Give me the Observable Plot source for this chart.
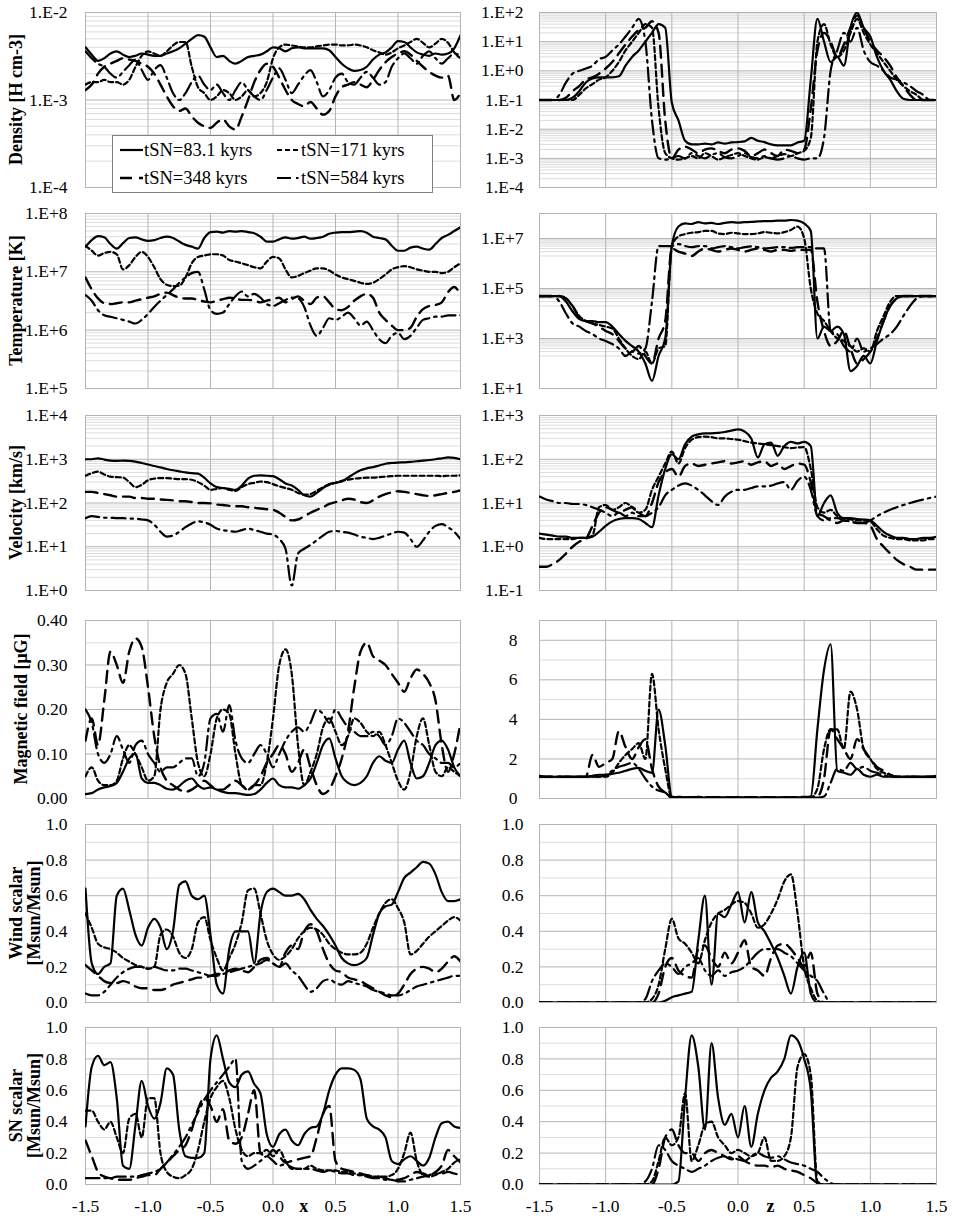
<!DOCTYPE html>
<html><head><meta charset="utf-8">
<script src="https://cdn.jsdelivr.net/npm/d3@7"></script>
<script src="https://cdn.jsdelivr.net/npm/@observablehq/plot@0.6"></script>
<style>
body{margin:0;background:#fff;}
#chart{position:relative;width:953px;height:1218px;font-family:"Liberation Serif","Times New Roman",serif;background:#fff;}
#chart svg{position:absolute;overflow:visible;}
</style></head>
<body><div id="chart"></div>
<script>
// ---- sampling grid (x for left column, z for right column) ----
const positions = d3.range(61).map(i => +(-1.5 + i * 0.05).toFixed(2));
const xTicks = [-1.5, -1.0, -0.5, 0.0, 0.5, 1.0, 1.5];
const seriesNames = ["tSN=83.1 kyrs", "tSN=171 kyrs", "tSN=348 kyrs", "tSN=584 kyrs"];

// ---- LEFT column (x) ----
const densX83 = [4.0e-3,3.3e-3,2.8e-3,3.0e-3,3.4e-3,3.6e-3,3.3e-3,3.1e-3,3.2e-3,3.4e-3, 3.3e-3,3.2e-3,3.2e-3,3.4e-3,3.6e-3,3.9e-3,4.4e-3,5.0e-3,5.5e-3,5.3e-3, 4.0e-3,3.1e-3,3.2e-3,2.8e-3,2.6e-3,2.8e-3,3.1e-3,3.2e-3,3.3e-3,3.6e-3, 4.0e-3,3.9e-3,3.6e-3,3.9e-3,4.0e-3,3.9e-3,3.9e-3,3.9e-3,3.9e-3,3.7e-3, 3.1e-3,2.6e-3,2.3e-3,2.15e-3,2.2e-3,2.4e-3,2.9e-3,3.3e-3,3.5e-3,4.0e-3, 4.7e-3,4.6e-3,4.0e-3,3.5e-3,3.3e-3,3.2e-3,3.4e-3,3.3e-3,3.4e-3,3.9e-3, 5.5e-3];
const densX171 = [1.5e-3,1.6e-3,1.6e-3,1.7e-3,1.6e-3,1.6e-3,1.5e-3,1.7e-3,2.4e-3,3.2e-3, 3.6e-3,3.4e-3,3.2e-3,3.6e-3,4.2e-3,4.6e-3,4.6e-3,2.4e-3,1.4e-3,1.2e-3, 1.0e-3,1.1e-3,1.3e-3,1.2e-3,1.0e-3,1.1e-3,1.3e-3,1.1e-3,1.2e-3,1.6e-3, 3.0e-3,4.0e-3,4.3e-3,4.2e-3,4.1e-3,4.0e-3,4.0e-3,4.1e-3,4.2e-3,4.3e-3, 4.3e-3,4.2e-3,4.2e-3,4.3e-3,4.2e-3,4.0e-3,3.7e-3,3.5e-3,3.3e-3,3.5e-3, 3.9e-3,4.2e-3,4.6e-3,5.0e-3,4.5e-3,4.0e-3,4.4e-3,5.0e-3,4.5e-3,3.5e-3, 3.0e-3];
const densX348 = [1.3e-3,1.5e-3,2.0e-3,2.4e-3,2.6e-3,2.8e-3,3.0e-3,2.9e-3,2.8e-3,2.6e-3, 2.4e-3,2.0e-3,1.5e-3,1.1e-3,8.5e-4,7.5e-4,8.0e-4,6.5e-4,5.5e-4,5.0e-4, 4.8e-4,5.5e-4,6.0e-4,5.0e-4,4.6e-4,6.5e-4,1.0e-3,1.6e-3,2.2e-3,2.6e-3, 2.4e-3,1.8e-3,1.3e-3,1.0e-3,9.0e-4,8.5e-4,9.5e-4,8.0e-4,6.8e-4,7.5e-4, 1.1e-3,1.4e-3,1.5e-3,1.6e-3,1.5e-3,1.4e-3,1.7e-3,2.2e-3,2.7e-3,3.1e-3, 3.4e-3,3.6e-3,3.3e-3,2.8e-3,2.4e-3,2.1e-3,1.9e-3,1.8e-3,1.9e-3,1.0e-3, 1.2e-3];
const densX584 = [3.6e-3,3.0e-3,2.6e-3,2.4e-3,2.0e-3,1.8e-3,2.1e-3,2.5e-3,2.9e-3,2.2e-3, 1.7e-3,2.2e-3,2.5e-3,1.8e-3,1.2e-3,1.0e-3,1.2e-3,1.6e-3,1.9e-3,1.5e-3, 1.3e-3,1.5e-3,1.2e-3,1.0e-3,1.3e-3,1.6e-3,1.3e-3,1.1e-3,1.0e-3,1.3e-3, 1.8e-3,2.3e-3,1.7e-3,1.2e-3,1.5e-3,1.9e-3,2.2e-3,1.6e-3,1.1e-3,1.3e-3, 1.8e-3,2.0e-3,1.6e-3,1.5e-3,1.8e-3,2.1e-3,1.8e-3,1.5e-3,1.6e-3,2.4e-3, 3.0e-3,3.4e-3,3.0e-3,2.6e-3,3.2e-3,3.6e-3,3.0e-3,2.6e-3,3.0e-3,3.4e-3, 3.2e-3];

const tempX83 = [2.7e7,3.5e7,4.1e7,3.9e7,3.0e7,2.5e7,3.1e7,3.8e7,3.9e7,3.6e7, 3.4e7,3.5e7,3.8e7,4.0e7,3.8e7,3.3e7,2.9e7,2.7e7,2.5e7,3.8e7, 4.8e7,4.9e7,4.7e7,5.0e7,4.9e7,5.0e7,4.8e7,4.6e7,4.0e7,3.3e7, 3.3e7,3.6e7,3.9e7,3.7e7,3.8e7,4.0e7,3.7e7,3.8e7,4.0e7,4.5e7, 4.7e7,4.8e7,4.8e7,4.9e7,5.0e7,4.7e7,4.0e7,3.8e7,3.6e7,2.8e7, 2.3e7,2.3e7,2.6e7,2.7e7,2.5e7,2.4e7,3.0e7,3.8e7,4.3e7,5.0e7, 5.8e7];
const tempX171 = [2.8e7,2.3e7,1.9e7,2.1e7,2.2e7,2.0e7,1.1e7,1.3e7,1.8e7,2.2e7, 1.8e7,1.2e7,7.5e6,6.0e6,5.7e6,5.8e6,8.0e6,1.4e7,1.8e7,1.9e7, 2.0e7,2.0e7,1.9e7,1.6e7,1.5e7,1.4e7,1.3e7,1.2e7,1.15e7,1.5e7, 1.8e7,1.7e7,1.1e7,8.0e6,8.5e6,9.5e6,1.05e7,1.15e7,1.15e7,1.05e7, 9.0e6,8.0e6,7.5e6,7.0e6,6.5e6,6.2e6,6.5e6,7.5e6,9.0e6,1.1e7, 1.2e7,1.25e7,1.2e7,1.1e7,1.05e7,1.0e7,1.0e7,9.5e6,1.0e7,1.2e7, 1.4e7];
const tempX348 = [8.0e6,5.0e6,3.5e6,2.9e6,2.8e6,2.9e6,3.0e6,3.0e6,3.2e6,3.4e6, 3.6e6,3.8e6,4.2e6,4.4e6,4.0e6,3.6e6,3.5e6,3.5e6,3.3e6,3.1e6, 3.0e6,3.2e6,3.4e6,3.6e6,3.5e6,3.3e6,3.3e6,3.2e6,3.0e6,3.2e6, 3.4e6,3.6e6,3.0e6,3.4e6,3.8e6,3.2e6,2.8e6,3.6e6,3.8e6,3.0e6, 2.3e6,2.2e6,2.5e6,3.2e6,3.8e6,4.2e6,3.6e6,2.0e6,1.5e6,1.2e6, 1.0e6,1.0e6,1.1e6,1.7e6,2.3e6,2.6e6,2.7e6,3.0e6,4.5e6,5.5e6, 4.0e6];
const tempX584 = [4.0e6,3.2e6,2.2e6,1.8e6,1.7e6,1.6e6,1.5e6,1.4e6,1.3e6,1.5e6, 1.9e6,2.5e6,3.2e6,4.0e6,5.0e6,6.5e6,8.0e6,9.5e6,1.0e7,5.0e6, 2.2e6,1.9e6,2.0e6,2.8e6,3.8e6,4.6e6,3.8e6,4.2e6,3.6e6,2.8e6, 2.6e6,2.9e6,3.3e6,3.6e6,3.5e6,2.5e6,1.2e6,8.0e5,1.1e6,1.6e6, 1.5e6,1.7e6,2.0e6,1.6e6,1.2e6,1.4e6,1.0e6,7.0e5,6.0e5,8.0e5, 9.0e5,7.0e5,8.0e5,1.1e6,1.5e6,1.6e6,1.7e6,1.7e6,1.8e6,1.8e6, 1.8e6];

const velX83 = [1000,1000,1050,980,930,920,930,920,880,820, 760,700,650,600,560,530,500,480,470,380, 280,230,220,210,200,250,360,420,430,420, 410,350,280,250,200,150,140,170,220,270, 290,310,380,470,560,620,660,720,790,820, 840,850,870,900,930,960,1000,1050,1100,1080, 1000];
const velX171 = [420,480,520,450,400,390,380,300,230,260, 330,360,370,370,360,350,350,340,300,250, 200,210,220,200,190,230,270,290,310,300, 270,240,220,200,170,155,160,190,230,260, 290,320,340,360,370,380,380,390,400,410, 420,420,420,420,420,420,420,410,420,420, 430];
const velX348 = [180,180,170,160,150,140,140,140,130,130, 125,125,120,118,115,110,110,105,100,100, 98,92,90,86,84,84,80,78,75,72, 70,60,48,40,42,50,60,70,80,95, 105,115,125,120,105,100,115,140,160,175, 185,180,170,160,150,145,150,160,170,180, 195];
const velX584 = [45,50,48,46,46,45,45,44,44,42, 40,32,22,17,18,22,28,34,38,36, 32,26,24,23,22,24,26,24,22,20, 19,15,9,1.3,7,9,11,14,18,22, 23,22,21,19,17,16,15,16,18,20, 22,21,15,10,14,22,30,33,28,22, 15];

const magX83 = [0.01,0.012,0.02,0.025,0.028,0.035,0.06,0.09,0.10,0.045, 0.035,0.035,0.03,0.022,0.02,0.028,0.04,0.045,0.03,0.022, 0.025,0.02,0.015,0.012,0.012,0.01,0.008,0.01,0.02,0.035, 0.045,0.03,0.025,0.025,0.022,0.03,0.045,0.08,0.12,0.135, 0.09,0.05,0.035,0.03,0.035,0.05,0.08,0.095,0.085,0.08, 0.11,0.13,0.08,0.045,0.05,0.08,0.12,0.13,0.11,0.07, 0.05];
const magX171 = [0.05,0.07,0.04,0.03,0.03,0.04,0.09,0.12,0.10,0.07, 0.04,0.05,0.20,0.26,0.28,0.30,0.28,0.18,0.08,0.05, 0.10,0.18,0.20,0.19,0.10,0.03,0.02,0.03,0.03,0.08, 0.18,0.30,0.335,0.28,0.12,0.03,0.06,0.10,0.16,0.18, 0.15,0.12,0.14,0.18,0.17,0.15,0.14,0.15,0.12,0.08, 0.04,0.02,0.06,0.14,0.18,0.12,0.06,0.05,0.07,0.06, 0.05];
const magX348 = [0.13,0.18,0.12,0.22,0.33,0.30,0.26,0.33,0.36,0.34, 0.25,0.14,0.07,0.04,0.03,0.02,0.015,0.02,0.03,0.04, 0.03,0.02,0.02,0.03,0.04,0.03,0.02,0.03,0.05,0.08, 0.10,0.12,0.10,0.06,0.08,0.11,0.07,0.03,0.01,0.02, 0.05,0.09,0.15,0.25,0.33,0.35,0.32,0.31,0.30,0.28, 0.26,0.24,0.27,0.29,0.28,0.26,0.22,0.12,0.06,0.10, 0.17];
const magX584 = [0.20,0.17,0.10,0.08,0.10,0.14,0.11,0.08,0.12,0.13, 0.10,0.08,0.06,0.07,0.07,0.08,0.09,0.09,0.05,0.08, 0.18,0.19,0.15,0.21,0.13,0.09,0.08,0.10,0.12,0.10, 0.07,0.10,0.13,0.15,0.16,0.15,0.17,0.20,0.19,0.17, 0.20,0.18,0.16,0.15,0.14,0.14,0.15,0.14,0.12,0.14, 0.18,0.17,0.15,0.13,0.12,0.10,0.09,0.08,0.08,0.07, 0.08];

const windX83 = [0.64,0.22,0.16,0.20,0.22,0.60,0.64,0.52,0.38,0.32, 0.42,0.47,0.42,0.30,0.40,0.66,0.68,0.60,0.58,0.60, 0.38,0.10,0.05,0.30,0.40,0.40,0.40,0.22,0.50,0.62, 0.64,0.62,0.60,0.60,0.61,0.58,0.52,0.47,0.43,0.38, 0.32,0.25,0.22,0.21,0.22,0.25,0.38,0.50,0.54,0.55, 0.62,0.70,0.73,0.76,0.79,0.78,0.72,0.62,0.57,0.57, 0.58];
const windX171 = [0.50,0.42,0.33,0.31,0.30,0.28,0.25,0.23,0.21,0.20, 0.19,0.20,0.38,0.41,0.37,0.28,0.25,0.30,0.45,0.48, 0.35,0.25,0.18,0.25,0.33,0.45,0.63,0.64,0.50,0.35, 0.27,0.24,0.26,0.30,0.36,0.40,0.42,0.41,0.38,0.33, 0.30,0.28,0.27,0.27,0.28,0.33,0.42,0.50,0.56,0.58, 0.53,0.45,0.27,0.29,0.33,0.37,0.40,0.43,0.46,0.48, 0.46];
const windX348 = [0.21,0.18,0.15,0.12,0.11,0.11,0.12,0.11,0.09,0.08, 0.08,0.07,0.07,0.08,0.10,0.11,0.12,0.13,0.14,0.14, 0.15,0.16,0.16,0.18,0.19,0.18,0.17,0.20,0.24,0.25, 0.22,0.20,0.28,0.32,0.30,0.40,0.44,0.40,0.30,0.22, 0.18,0.17,0.14,0.13,0.12,0.10,0.08,0.06,0.04,0.03, 0.05,0.10,0.16,0.19,0.20,0.19,0.17,0.19,0.23,0.26, 0.23];
const windX584 = [0.05,0.04,0.04,0.06,0.10,0.14,0.17,0.19,0.20,0.20, 0.19,0.20,0.19,0.18,0.18,0.19,0.19,0.18,0.17,0.16, 0.15,0.15,0.16,0.17,0.18,0.19,0.20,0.21,0.22,0.24, 0.22,0.20,0.22,0.18,0.15,0.10,0.06,0.08,0.12,0.13, 0.11,0.10,0.12,0.11,0.10,0.09,0.07,0.06,0.05,0.04, 0.04,0.05,0.07,0.09,0.10,0.11,0.12,0.13,0.14,0.15, 0.15];

const snX83 = [0.37,0.75,0.82,0.76,0.78,0.55,0.12,0.10,0.38,0.66, 0.50,0.42,0.52,0.74,0.70,0.35,0.18,0.17,0.17,0.20, 0.80,0.95,0.80,0.65,0.62,0.70,0.72,0.64,0.58,0.32, 0.24,0.32,0.35,0.28,0.25,0.32,0.36,0.37,0.45,0.60, 0.70,0.74,0.74,0.73,0.67,0.42,0.37,0.35,0.30,0.15, 0.13,0.16,0.18,0.15,0.12,0.17,0.30,0.39,0.40,0.37, 0.36];
const snX171 = [0.47,0.47,0.40,0.35,0.40,0.30,0.20,0.42,0.45,0.30, 0.55,0.55,0.20,0.08,0.05,0.04,0.06,0.10,0.22,0.40, 0.55,0.62,0.66,0.55,0.35,0.22,0.18,0.20,0.20,0.22, 0.18,0.22,0.15,0.10,0.10,0.10,0.12,0.10,0.09,0.09, 0.09,0.08,0.08,0.07,0.06,0.06,0.05,0.05,0.05,0.06, 0.10,0.20,0.33,0.15,0.06,0.05,0.06,0.08,0.10,0.14, 0.16];
const snX348 = [0.28,0.18,0.08,0.05,0.04,0.03,0.03,0.03,0.04,0.05, 0.06,0.06,0.10,0.14,0.18,0.22,0.25,0.35,0.48,0.55, 0.50,0.40,0.48,0.28,0.26,0.30,0.45,0.60,0.20,0.18, 0.22,0.18,0.14,0.15,0.16,0.17,0.18,0.30,0.45,0.50, 0.15,0.10,0.09,0.08,0.07,0.06,0.05,0.05,0.04,0.03, 0.03,0.04,0.06,0.08,0.07,0.06,0.08,0.12,0.22,0.18, 0.14];
const snX584 = [0.04,0.04,0.04,0.04,0.04,0.05,0.05,0.05,0.05,0.06, 0.07,0.08,0.10,0.14,0.19,0.24,0.30,0.38,0.46,0.54, 0.60,0.65,0.70,0.75,0.80,0.15,0.10,0.12,0.15,0.18, 0.15,0.12,0.13,0.11,0.10,0.10,0.10,0.09,0.08,0.09, 0.08,0.07,0.07,0.06,0.06,0.05,0.04,0.04,0.03,0.03, 0.02,0.02,0.03,0.04,0.05,0.06,0.07,0.07,0.08,0.07, 0.06];

// ---- RIGHT column (z) ----
const densZ83 = [0.1,0.1,0.1,0.1,0.1,0.12,0.2,0.4,0.55,0.6, 0.6,0.6,0.65,1.5,3,5,10,20,40,30, 0.08,0.02,4e-3,3e-3,3e-3,3.2e-3,3e-3,3.5e-3,3.2e-3,3.5e-3, 3.6e-3,3.8e-3,5e-3,4e-3,3.6e-3,3e-3,2.8e-3,2.8e-3,2.8e-3,3.5e-3, 4e-3,0.5,60,10,2,3,1.5,30,100,30, 15,3,1.0,0.5,0.2,0.11,0.1,0.1,0.1,0.1, 0.1];
const densZ171 = [0.1,0.1,0.1,0.1,0.1,0.1,0.15,0.25,0.35,0.5, 0.6,1.0,2,5,10,20,40,30,0.05,1.5e-3, 1e-3,9e-4,1e-3,1.2e-3,1e-3,1.5e-3,1.2e-3,9e-4,1.1e-3,1.3e-3, 1.5e-3,1.2e-3,1e-3,9e-4,1.1e-3,1e-3,1.2e-3,1.4e-3,1.2e-3,1.5e-3, 1.8e-3,5e-3,10,40,8,3,5,20,60,20, 8,4,2,1.0,0.5,0.3,0.2,0.15,0.1,0.1, 0.1];
const densZ348 = [0.1,0.1,0.1,0.1,0.12,0.2,0.3,0.5,0.6,0.8, 1.2,2,4,8,15,25,30,50,20,0.02, 1e-3,2e-3,2.5e-3,2e-3,1.5e-3,2e-3,2.2e-3,1.8e-3,1.5e-3,2e-3, 2.2e-3,1.8e-3,1.2e-3,1.5e-3,2e-3,1.5e-3,1.2e-3,2e-3,1.8e-3,1.5e-3, 2e-3,0.05,5,20,10,3,8,30,80,30, 10,5,3,1.5,0.6,0.3,0.15,0.1,0.1,0.1, 0.1];
const densZ584 = [0.1,0.1,0.1,0.15,0.4,0.8,1.0,1.2,1.5,2.5, 3,5,8,15,30,60,10,0.02,1e-3,9e-4, 1e-3,1.2e-3,1e-3,1.5e-3,1.2e-3,1e-3,1.3e-3,1.5e-3,1.1e-3,1e-3, 1.2e-3,1.5e-3,1.1e-3,1e-3,1.2e-3,1e-3,9e-4,1e-3,1.2e-3,1e-3, 9e-4,1e-3,1e-3,5e-3,1,5,20,10,30,5, 2,1.5,1.0,0.6,0.5,0.4,0.3,0.2,0.15,0.1, 0.1];

const tempZ83 = [5e4,5e4,5e4,5e4,3e4,1.2e4,6e3,5e3,5e3,4.5e3, 4.5e3,3e3,1.5e3,800,500,300,100,20,200,1e3, 5e6,3e7,4e7,3.8e7,4.5e7,4e7,4.2e7,3.8e7,4.2e7,4.5e7, 4.3e7,4.5e7,4.6e7,4.8e7,5e7,5e7,5.2e7,5.2e7,5.5e7,5.2e7, 4e7,2e7,1e3,3e3,2e3,3e3,1.5e3,50,80,200, 100,800,5e3,2e4,4e4,5e4,5e4,5e4,5e4,5e4, 5e4];
const tempZ171 = [5e4,5e4,5e4,5e4,4e4,2e4,8e3,5e3,4e3,3.5e3, 3e3,2.5e3,1e3,400,200,150,300,100,400,500, 5e6,1.2e7,1.5e7,1.7e7,1.8e7,2e7,2e7,1.6e7,1.5e7,1.7e7, 1.6e7,1.5e7,1.5e7,1.6e7,1.8e7,1.7e7,1.6e7,1.8e7,2.2e7,3e7, 1e7,1e5,1e4,5e3,2e3,1e3,800,500,300,400, 300,2e3,8e3,3e4,5e4,5e4,5e4,5e4,5e4,5e4, 5e4];
const tempZ348 = [5e4,5e4,5e4,5e4,4e4,2e4,7e3,5e3,4e3,3e3, 2e3,1.5e3,800,400,300,500,200,100,1e3,5e3, 4e6,3e6,2.5e6,2e6,3e6,4e6,3.5e6,3e6,3.5e6,4e6, 3.5e6,3e6,3.5e6,4e6,3.5e6,3e6,3.5e6,3.5e6,3.2e6,3.5e6, 3.5e6,3.5e6,3e4,2e3,500,800,2e3,400,100,150, 300,1e3,5e3,2e4,4e4,5e4,5e4,5e4,5e4,5e4, 5e4];
const tempZ584 = [5e4,5e4,5e4,3e4,1e4,4e3,3e3,2e3,1.5e3,1e3, 800,600,400,200,300,250,400,3e4,5e6,5e6, 5e6,6e6,5e6,4.5e6,5e6,5e6,4e6,4.5e6,5e6,4.5e6, 4e6,4.5e6,4.8e6,4.5e6,4e6,4.2e6,4.5e6,4.5e6,4.2e6,4.5e6, 4.5e6,4.5e6,4e6,4e6,2e3,1.5e3,500,300,1e3,300, 400,600,1e3,1.5e3,3e3,8e3,2e4,4e4,5e4,5e4, 5e4];

const velZ83 = [2.0,1.9,1.8,1.7,1.7,1.6,1.6,1.6,1.7,2.2, 3.0,3.8,4.3,4.5,4.5,4.3,3.5,2.8,15,60, 130,100,220,330,370,390,390,400,420,450, 480,430,300,110,220,240,120,200,250,230, 250,200,5,10,15,6,4.5,4.5,4.3,4.2, 4.0,3.0,2.2,1.8,1.6,1.6,1.5,1.5,1.6,1.6, 1.7];
const velZ171 = [1.6,1.5,1.5,1.5,1.5,1.5,1.6,1.6,1.8,8, 9,7,8,10,8,6,7,20,40,80, 150,80,180,280,320,330,320,300,300,290, 280,260,240,230,220,210,200,190,180,185, 190,60,8,6,7,5,4.5,4.2,4.0,4.0, 3.8,2.5,1.8,1.6,1.5,1.5,1.4,1.4,1.4,1.5, 1.5];
const velZ348 = [0.35,0.35,0.4,0.5,0.7,1.0,1.3,1.5,3,6, 8,7,6,7,8,6,5,10,30,50, 60,40,70,80,70,75,80,85,90,80, 85,90,75,85,90,70,80,60,70,80, 75,30,6,5,4,3.5,4,3.8,3.5,3.5, 3.0,1.5,1.0,0.7,0.5,0.4,0.35,0.3,0.3,0.3, 0.3];
const velZ584 = [14,12,11,10,10,9.5,9.5,9,8,7, 6,5,6,5,6,5,5,6,8,15, 20,25,28,25,20,15,11,9,14,18, 20,20,22,24,24,25,28,30,20,32, 40,20,5,4,4.5,4.5,4,3.8,3.5,3.5, 4,5,6,7,8,9,10,11,12,13, 14];

const magZ83 = [1.15,1.1,1.1,1.1,1.1,1.1,1.1,1.1,1.15,1.2, 1.2,1.25,1.3,1.4,1.5,1.55,1.4,1.3,4.5,2.7, 0.1,0.05,0.06,0.05,0.07,0.05,0.06,0.05,0.05,0.06, 0.05,0.05,0.06,0.05,0.05,0.06,0.05,0.05,0.05,0.05, 0.05,0.1,3.5,6.5,7.8,1.4,1.3,1.2,1.5,1.2, 1.1,1.2,1.1,1.1,1.1,1.1,1.1,1.1,1.1,1.1, 1.15];
const magZ171 = [1.1,1.1,1.1,1.1,1.1,1.1,1.1,1.1,1.1,1.1, 1.1,1.3,1.8,2.2,2.5,2.8,2.0,6.3,3.5,1.5, 0.05,0.05,0.05,0.05,0.05,0.05,0.05,0.05,0.05,0.05, 0.05,0.05,0.05,0.05,0.05,0.05,0.05,0.05,0.05,0.05, 0.05,0.05,0.5,2.5,3.5,3.5,2.5,5.4,4.5,2.5, 2.0,1.5,1.3,1.2,1.1,1.1,1.1,1.1,1.1,1.1, 1.1];
const magZ348 = [1.1,1.1,1.1,1.1,1.1,1.1,1.1,1.1,2.2,1.6, 1.8,2.0,3.4,2.6,2.0,2.6,3.0,1.5,0.6,0.3, 0.05,0.08,0.06,0.05,0.08,0.06,0.05,0.07,0.06,0.05, 0.06,0.05,0.07,0.05,0.06,0.05,0.05,0.06,0.05,0.07, 0.08,0.08,0.1,1.0,3.5,3.0,2.5,2.0,3.0,2.5, 2.0,1.6,1.4,1.2,1.1,1.1,1.1,1.1,1.1,1.1, 1.1];
const magZ584 = [1.1,1.1,1.1,1.1,1.1,1.1,1.1,1.1,1.1,1.1, 1.2,1.4,1.6,1.7,1.8,1.5,1.0,0.6,0.4,0.3, 0.05,0.05,0.05,0.05,0.05,0.05,0.05,0.05,0.05,0.05, 0.05,0.05,0.05,0.05,0.05,0.05,0.05,0.05,0.05,0.05, 0.05,0.05,0.05,0.1,0.8,1.5,1.4,1.8,1.5,1.6, 1.4,1.3,1.2,1.1,1.1,1.1,1.1,1.1,1.1,1.1, 1.1];

const windZ83 = [0,0,0,0,0,0,0,0,0,0, 0,0,0,0,0,0,0,0,0,0.01, 0.03,0.04,0.05,0.06,0.35,0.6,0.1,0.5,0.48,0.55, 0.62,0.45,0.62,0.45,0.40,0.33,0.25,0.15,0.05,0.2, 0.28,0.05,0,0,0,0,0,0,0,0, 0,0,0,0,0,0,0,0,0,0, 0];
const windZ171 = [0,0,0,0,0,0,0,0,0,0, 0,0,0,0,0,0,0,0.02,0.1,0.3, 0.47,0.36,0.33,0.28,0.22,0.35,0.45,0.5,0.52,0.55, 0.57,0.56,0.50,0.42,0.44,0.50,0.58,0.68,0.72,0.50, 0.20,0.08,0.01,0,0,0,0,0,0,0, 0,0,0,0,0,0,0,0,0,0, 0];
const windZ348 = [0,0,0,0,0,0,0,0,0,0, 0,0,0,0,0,0,0,0,0.05,0.2, 0.25,0.18,0.15,0.14,0.3,0.32,0.25,0.20,0.28,0.22, 0.28,0.35,0.2,0.18,0.15,0.25,0.32,0.33,0.30,0.25, 0.20,0.28,0.05,0,0,0,0,0,0,0, 0,0,0,0,0,0,0,0,0,0, 0];
const windZ584 = [0,0,0,0,0,0,0,0,0,0, 0,0,0,0,0,0,0.02,0.12,0.18,0.22, 0.20,0.16,0.20,0.22,0.25,0.18,0.15,0.18,0.15,0.17, 0.18,0.20,0.24,0.28,0.30,0.30,0.30,0.28,0.26,0.22, 0.18,0.15,0.12,0.05,0,0,0,0,0,0, 0,0,0,0,0,0,0,0,0,0, 0];

const snZ83 = [0,0,0,0,0,0,0,0,0,0, 0,0,0,0,0,0,0,0,0,0, 0,0.02,0.55,0.95,0.75,0.35,0.90,0.55,0.38,0.45, 0.3,0.5,0.24,0.45,0.6,0.68,0.72,0.8,0.95,0.92, 0.80,0.6,0,0,0,0,0,0,0,0, 0,0,0,0,0,0,0,0,0,0, 0];
const snZ171 = [0,0,0,0,0,0,0,0,0,0, 0,0,0,0,0,0,0,0.02,0.15,0.3, 0.25,0.3,0.58,0.15,0.25,0.38,0.40,0.3,0.25,0.2, 0.22,0.2,0.18,0.2,0.3,0.15,0.15,0.18,0.3,0.75, 0.83,0.7,0.02,0,0,0,0,0,0,0, 0,0,0,0,0,0,0,0,0,0, 0];
const snZ348 = [0,0,0,0,0,0,0,0,0,0, 0,0,0,0,0,0,0,0,0.1,0.3, 0.35,0.25,0.2,0.2,0.15,0.2,0.22,0.2,0.18,0.16, 0.18,0.15,0.13,0.12,0.12,0.11,0.12,0.10,0.09,0.08, 0.06,0.04,0.01,0,0,0,0,0,0,0, 0,0,0,0,0,0,0,0,0,0, 0];
const snZ584 = [0,0,0,0,0,0,0,0,0,0, 0,0,0,0,0,0,0.02,0.1,0.25,0.22, 0.15,0.12,0.1,0.08,0.1,0.12,0.15,0.17,0.18,0.17, 0.16,0.15,0.18,0.2,0.18,0.17,0.18,0.16,0.14,0.13, 0.12,0.1,0.08,0.04,0.01,0,0,0,0,0, 0,0,0,0,0,0,0,0,0,0, 0];

// ---- styles (kept separate from data) ----
const dashes = [null, "5,3", "12,7", "14,5,2.5,5"];
const widths = [2.2, 2.2, 2.4, 2.2];
const FONT = '"Liberation Serif","Times New Roman",serif';

// ---- tick helpers ----
const decades = (a, b) => d3.range(a, b + 1).map(e => Math.pow(10, e));
const logMinor = exps => exps.flatMap(e => d3.range(2, 10).map(k => k * Math.pow(10, e)));
const fmtE = d => { const e = Math.round(Math.log10(d)); return "1.E" + (e >= 0 ? "+" : "-") + Math.abs(e); };
const f2 = d => d.toFixed(2), f1 = d => d.toFixed(1), f0 = d => String(d);
const lin = (a, b, s) => d3.range(Math.round((b - a) / s) + 1).map(i => +(a + i * s).toFixed(3));

const rowTop = [12, 213, 415, 620, 824, 1027];
const rowBottom = [187, 388, 590, 798, 1002, 1184];

const panels = [
  {col:0,row:0,data:[densX83,densX171,densX348,densX584],type:"log",domain:[1e-4,1e-2],ticks:decades(-4,-2),major:decades(-4,-2),minor:logMinor([-4,-3]),fmt:fmtE,label:["Density [H cm-3]"]},
  {col:1,row:0,data:[densZ83,densZ171,densZ348,densZ584],type:"log",domain:[1e-4,1e2],ticks:decades(-4,2),major:decades(-4,2),minor:logMinor([-4,-3,-2,-1,0,1]),fmt:fmtE},
  {col:0,row:1,data:[tempX83,tempX171,tempX348,tempX584],type:"log",domain:[1e5,1e8],ticks:decades(5,8),major:decades(5,8),minor:logMinor([5,6,7]),fmt:fmtE,label:["Temperature [K]"]},
  {col:1,row:1,data:[tempZ83,tempZ171,tempZ348,tempZ584],type:"log",domain:[1e1,1e8],ticks:[1e1,1e3,1e5,1e7],major:[1e1,1e3,1e5,1e7],minor:logMinor([2,4,6]),fmt:fmtE},
  {col:0,row:2,data:[velX83,velX171,velX348,velX584],type:"log",domain:[1,1e4],ticks:decades(0,4),major:decades(0,4),minor:logMinor([0,1,2,3]),fmt:fmtE,label:["Velocity [km/s]"]},
  {col:1,row:2,data:[velZ83,velZ171,velZ348,velZ584],type:"log",domain:[0.1,1e3],ticks:decades(-1,3),major:decades(-1,3),minor:logMinor([-1,0,1,2]),fmt:fmtE},
  {col:0,row:3,data:[magX83,magX171,magX348,magX584],type:"linear",domain:[0,0.4],ticks:lin(0,0.4,0.1),major:lin(0,0.4,0.1),minor:lin(0.05,0.35,0.1),fmt:f2,label:["Magnetic field [μG]"],labelX:27},
  {col:1,row:3,data:[magZ83,magZ171,magZ348,magZ584],type:"linear",domain:[0,9],ticks:lin(0,8,2),major:lin(0,8,2),minor:lin(1,9,2),fmt:f0,pad:22},
  {col:0,row:4,data:[windX83,windX171,windX348,windX584],type:"linear",domain:[0,1],ticks:lin(0,1,0.2),major:lin(0,1,0.2),minor:lin(0.1,0.9,0.2),fmt:f1,label:["Wind scalar","[Msun/Msun]"]},
  {col:1,row:4,data:[windZ83,windZ171,windZ348,windZ584],type:"linear",domain:[0,1],ticks:lin(0,1,0.2),major:lin(0,1,0.2),minor:lin(0.1,0.9,0.2),fmt:f1},
  {col:0,row:5,data:[snX83,snX171,snX348,snX584],type:"linear",domain:[0,1],ticks:lin(0,1,0.2),major:lin(0,1,0.2),minor:lin(0.1,0.9,0.2),fmt:f1,label:["SN scalar","[Msun/Msun]"],axisName:"x"},
  {col:1,row:5,data:[snZ83,snZ171,snZ348,snZ584],type:"linear",domain:[0,1],ticks:lin(0,1,0.2),major:lin(0,1,0.2),minor:lin(0.1,0.9,0.2),fmt:f1,axisName:"z"}
];

const chart = document.getElementById("chart");

panels.forEach((p, pi) => {
  p.data.forEach((a, k) => { if (a.length !== positions.length) throw new Error(`panel ${pi} series ${k} length ${a.length}`); });
  const isBottom = p.row === 5;
  const mt = 12, mb = isBottom ? 36 : 12;
  const left = p.col === 0 ? 0 : 475;
  const width = p.col === 0 ? 475 : 478;
  const ml = p.col === 0 ? 85 : 64;
  const mr = p.col === 0 ? 15 : 17;
  const height = rowBottom[p.row] - rowTop[p.row] + mt + mb;
  const pad = p.pad ?? (p.col === 0 ? 18 : 16);

  const marks = [
    Plot.gridY(p.minor, {stroke: "#dcdcdc", strokeOpacity: 1, strokeWidth: 1}),
    Plot.gridY(p.major, {stroke: "#b4b4b4", strokeOpacity: 1, strokeWidth: 1}),
    Plot.gridX(xTicks, {stroke: "#b4b4b4", strokeOpacity: 1, strokeWidth: 1}),
    Plot.frame({stroke: "#b4b4b4"}),
    Plot.axisY(p.ticks, {tickSize: 0, tickPadding: pad, tickFormat: p.fmt, label: null, fontSize: 17.5})
  ];
  seriesNames.forEach((name, k) => {
    const rows = positions.map((pos, i) => ({pos, v: p.data[k][i], series: name}));
    const opts = {x: "pos", y: "v", stroke: "#000", strokeWidth: widths[k], curve: "monotone-x", clip: true};
    if (dashes[k]) opts.strokeDasharray = dashes[k];
    marks.push(Plot.line(rows, opts));
  });
  if (isBottom) marks.push(Plot.axisX(xTicks, {tickSize: 0, tickPadding: 15, tickFormat: f1, label: null, fontSize: 17.5}));

  const plot = Plot.plot({
    width, height, marginTop: mt, marginBottom: mb, marginLeft: ml, marginRight: mr,
    style: {fontFamily: FONT, fontSize: "17.5px", color: "#000", background: "transparent", overflow: "visible"},
    x: isBottom ? {domain: [-1.5, 1.5]} : {domain: [-1.5, 1.5], axis: null},
    y: {type: p.type, domain: p.domain},
    marks
  });
  plot.style.left = left + "px";
  plot.style.top = (rowTop[p.row] - mt) + "px";
  chart.appendChild(plot);

  const svg = d3.select(plot);
  if (p.label) {
    const cy = mt + (height - mt - mb) / 2;
    const bx = p.labelX ?? 22;
    p.label.forEach((t, k) => {
      svg.append("text")
        .attr("transform", `translate(${bx + k * 18},${cy}) rotate(-90)`)
        .attr("text-anchor", "middle")
        .attr("font-family", FONT).attr("font-weight", "bold").attr("font-size", 18)
        .attr("fill", "#000")
        .text(t);
    });
  }
  if (p.axisName) {
    const xs = plot.scale("x");
    svg.append("text")
      .attr("x", xs.apply(0.25))
      .attr("y", height - mb + 15 + 12.5)
      .attr("text-anchor", "middle")
      .attr("font-family", FONT).attr("font-weight", "bold").attr("font-size", 18)
      .attr("fill", "#000")
      .text(p.axisName);
  }
});

// ---- legend (inside the top-left panel) ----
const lg = d3.select(chart).append("svg")
  .attr("width", 321).attr("height", 58)
  .style("left", "112px").style("top", "135px");
lg.append("rect").attr("x", 0.5).attr("y", 0.5).attr("width", 320).attr("height", 57)
  .attr("fill", "#fff").attr("stroke", "#808080");
const cells = [[8, 15], [165, 15], [8, 43], [165, 43]];
seriesNames.forEach((name, k) => {
  const [cx, cyy] = cells[k];
  lg.append("line").attr("x1", cx).attr("x2", cx + 23).attr("y1", cyy).attr("y2", cyy)
    .attr("stroke", "#000").attr("stroke-width", widths[k])
    .attr("stroke-dasharray", dashes[k]);
  lg.append("text").attr("x", cx + 24).attr("y", cyy + 6)
    .attr("font-family", FONT).attr("font-size", 18.5).attr("fill", "#000")
    .text(name);
});
</script>
</body></html>
